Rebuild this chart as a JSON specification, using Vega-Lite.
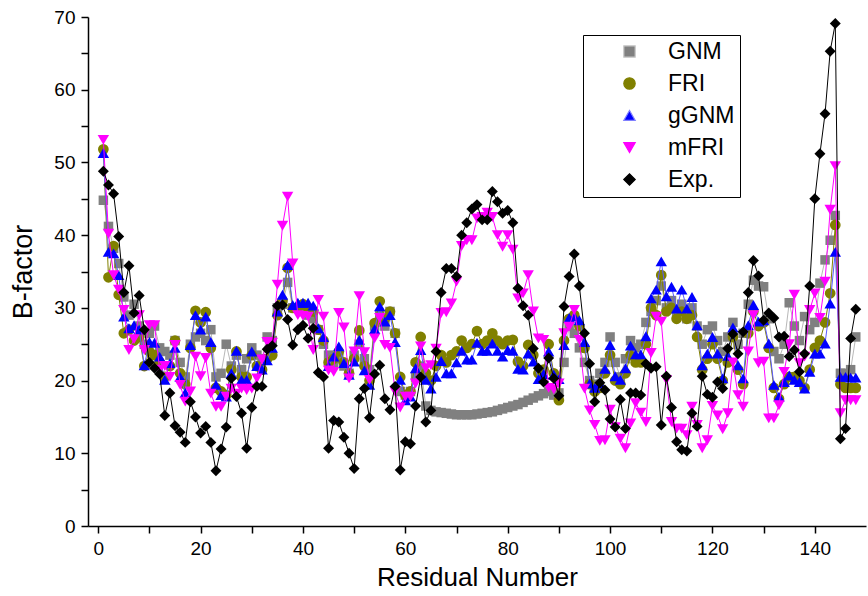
{
"$schema":"https://vega.github.io/schema/vega-lite/v6.json",
"width":778,"height":509,
"autosize":"none",
"padding":{"left":88,"top":17,"right":2,"bottom":70},
"background":"white",
"datasets":{
"GNM":[{"r":1,"v":44.8},{"r":2,"v":41.2},{"r":3,"v":38.2},{"r":4,"v":36.1},{"r":5,"v":31.5},{"r":6,"v":29.0},{"r":7,"v":30.5},{"r":8,"v":27.5},{"r":9,"v":25.0},{"r":10,"v":26.5},{"r":11,"v":27.5},{"r":12,"v":24.5},{"r":13,"v":24.0},{"r":14,"v":23.5},{"r":15,"v":25.5},{"r":16,"v":22.5},{"r":17,"v":20.5},{"r":18,"v":25.0},{"r":19,"v":26.0},{"r":20,"v":26.5},{"r":21,"v":25.5},{"r":22,"v":27.0},{"r":23,"v":20.5},{"r":24,"v":21.0},{"r":25,"v":25.0},{"r":26,"v":22.0},{"r":27,"v":23.5},{"r":28,"v":21.5},{"r":29,"v":23.0},{"r":30,"v":24.5},{"r":31,"v":23.5},{"r":32,"v":23.0},{"r":33,"v":26.0},{"r":34,"v":25.5},{"r":35,"v":30.0},{"r":36,"v":30.5},{"r":37,"v":33.5},{"r":38,"v":30.0},{"r":39,"v":30.0},{"r":40,"v":29.5},{"r":41,"v":29.0},{"r":42,"v":28.5},{"r":43,"v":27.0},{"r":44,"v":25.0},{"r":45,"v":23.5},{"r":46,"v":22.5},{"r":47,"v":23.0},{"r":48,"v":22.0},{"r":49,"v":21.0},{"r":50,"v":23.5},{"r":51,"v":25.0},{"r":52,"v":23.0},{"r":53,"v":21.5},{"r":54,"v":27.5},{"r":55,"v":29.0},{"r":56,"v":27.5},{"r":57,"v":29.5},{"r":58,"v":26.5},{"r":59,"v":18.5},{"r":60,"v":18.0},{"r":61,"v":18.5},{"r":62,"v":20.5},{"r":63,"v":22.0},{"r":64,"v":16.5},{"r":65,"v":15.9},{"r":66,"v":15.7},{"r":67,"v":15.6},{"r":68,"v":15.5},{"r":69,"v":15.4},{"r":70,"v":15.3},{"r":71,"v":15.3},{"r":72,"v":15.3},{"r":73,"v":15.3},{"r":74,"v":15.4},{"r":75,"v":15.5},{"r":76,"v":15.6},{"r":77,"v":15.7},{"r":78,"v":15.9},{"r":79,"v":16.1},{"r":80,"v":16.3},{"r":81,"v":16.5},{"r":82,"v":16.7},{"r":83,"v":17.0},{"r":84,"v":17.3},{"r":85,"v":17.6},{"r":86,"v":17.9},{"r":87,"v":18.2},{"r":88,"v":18.5},{"r":89,"v":18.0},{"r":90,"v":18.3},{"r":91,"v":22.5},{"r":92,"v":27.5},{"r":93,"v":26.5},{"r":94,"v":24.5},{"r":95,"v":22.5},{"r":96,"v":20.0},{"r":97,"v":19.5},{"r":98,"v":21.0},{"r":99,"v":22.5},{"r":100,"v":26.0},{"r":101,"v":22.5},{"r":102,"v":20.5},{"r":103,"v":23.0},{"r":104,"v":25.5},{"r":105,"v":24.5},{"r":106,"v":25.0},{"r":107,"v":28.0},{"r":108,"v":29.5},{"r":109,"v":31.0},{"r":110,"v":33.0},{"r":111,"v":30.0},{"r":112,"v":31.0},{"r":113,"v":29.0},{"r":114,"v":30.5},{"r":115,"v":28.5},{"r":116,"v":30.0},{"r":117,"v":27.5},{"r":118,"v":25.0},{"r":119,"v":27.0},{"r":120,"v":27.5},{"r":121,"v":25.5},{"r":122,"v":24.0},{"r":123,"v":26.0},{"r":124,"v":28.0},{"r":125,"v":25.0},{"r":126,"v":26.5},{"r":127,"v":30.5},{"r":128,"v":33.8},{"r":129,"v":33.0},{"r":130,"v":32.9},{"r":131,"v":28.5},{"r":132,"v":24.0},{"r":133,"v":23.0},{"r":134,"v":25.0},{"r":135,"v":30.7},{"r":136,"v":27.5},{"r":137,"v":25.5},{"r":138,"v":28.8},{"r":139,"v":27.0},{"r":140,"v":28.0},{"r":141,"v":33.4},{"r":142,"v":36.6},{"r":143,"v":39.3},{"r":144,"v":42.7},{"r":145,"v":21.0},{"r":146,"v":21.0},{"r":147,"v":21.5},{"r":148,"v":26.0}],
"FRI":[{"r":1,"v":51.8},{"r":2,"v":34.2},{"r":3,"v":38.5},{"r":4,"v":31.8},{"r":5,"v":26.5},{"r":6,"v":27.0},{"r":7,"v":25.5},{"r":8,"v":26.0},{"r":9,"v":22.0},{"r":10,"v":24.0},{"r":11,"v":23.5},{"r":12,"v":22.5},{"r":13,"v":20.5},{"r":14,"v":22.0},{"r":15,"v":25.5},{"r":16,"v":21.0},{"r":17,"v":19.5},{"r":18,"v":24.5},{"r":19,"v":29.6},{"r":20,"v":28.0},{"r":21,"v":29.4},{"r":22,"v":24.5},{"r":23,"v":19.0},{"r":24,"v":18.5},{"r":25,"v":18.0},{"r":26,"v":21.5},{"r":27,"v":24.0},{"r":28,"v":20.5},{"r":29,"v":20.5},{"r":30,"v":23.5},{"r":31,"v":22.0},{"r":32,"v":21.5},{"r":33,"v":23.0},{"r":34,"v":23.5},{"r":35,"v":29.0},{"r":36,"v":31.0},{"r":37,"v":35.5},{"r":38,"v":30.0},{"r":39,"v":30.0},{"r":40,"v":30.5},{"r":41,"v":30.0},{"r":42,"v":29.5},{"r":43,"v":27.0},{"r":44,"v":25.5},{"r":45,"v":22.5},{"r":46,"v":23.0},{"r":47,"v":24.0},{"r":48,"v":22.5},{"r":49,"v":21.0},{"r":50,"v":23.0},{"r":51,"v":26.9},{"r":52,"v":22.0},{"r":53,"v":20.0},{"r":54,"v":27.9},{"r":55,"v":30.9},{"r":56,"v":28.5},{"r":57,"v":29.5},{"r":58,"v":26.5},{"r":59,"v":20.5},{"r":60,"v":18.0},{"r":61,"v":18.5},{"r":62,"v":22.5},{"r":63,"v":26.0},{"r":64,"v":21.0},{"r":65,"v":20.0},{"r":66,"v":22.0},{"r":67,"v":23.5},{"r":68,"v":22.5},{"r":69,"v":23.5},{"r":70,"v":24.0},{"r":71,"v":25.5},{"r":72,"v":24.5},{"r":73,"v":25.0},{"r":74,"v":26.8},{"r":75,"v":25.0},{"r":76,"v":25.5},{"r":77,"v":26.5},{"r":78,"v":25.5},{"r":79,"v":25.0},{"r":80,"v":25.5},{"r":81,"v":25.6},{"r":82,"v":22.6},{"r":83,"v":22.0},{"r":84,"v":24.9},{"r":85,"v":23.5},{"r":86,"v":21.0},{"r":87,"v":21.5},{"r":88,"v":25.0},{"r":89,"v":21.0},{"r":90,"v":17.3},{"r":91,"v":25.5},{"r":92,"v":28.5},{"r":93,"v":29.0},{"r":94,"v":27.5},{"r":95,"v":24.5},{"r":96,"v":19.5},{"r":97,"v":18.5},{"r":98,"v":19.0},{"r":99,"v":21.0},{"r":100,"v":23.5},{"r":101,"v":20.0},{"r":102,"v":19.5},{"r":103,"v":21.0},{"r":104,"v":23.5},{"r":105,"v":22.5},{"r":106,"v":22.5},{"r":107,"v":25.0},{"r":108,"v":30.0},{"r":109,"v":29.0},{"r":110,"v":34.5},{"r":111,"v":29.5},{"r":112,"v":30.0},{"r":113,"v":28.5},{"r":114,"v":29.5},{"r":115,"v":28.5},{"r":116,"v":29.0},{"r":117,"v":26.0},{"r":118,"v":21.5},{"r":119,"v":23.0},{"r":120,"v":25.0},{"r":121,"v":23.0},{"r":122,"v":20.0},{"r":123,"v":22.5},{"r":124,"v":26.0},{"r":125,"v":21.5},{"r":126,"v":19.5},{"r":127,"v":26.5},{"r":128,"v":29.5},{"r":129,"v":27.5},{"r":130,"v":28.0},{"r":131,"v":24.5},{"r":132,"v":19.0},{"r":133,"v":17.5},{"r":134,"v":19.5},{"r":135,"v":20.5},{"r":136,"v":20.5},{"r":137,"v":20.0},{"r":138,"v":19.0},{"r":139,"v":21.5},{"r":140,"v":24.5},{"r":141,"v":25.5},{"r":142,"v":28.0},{"r":143,"v":32.0},{"r":144,"v":41.4},{"r":145,"v":19.5},{"r":146,"v":19.0},{"r":147,"v":19.0},{"r":148,"v":19.0}],
"gGNM":[{"r":1,"v":51.3},{"r":2,"v":37.7},{"r":3,"v":37.5},{"r":4,"v":34.5},{"r":5,"v":28.8},{"r":6,"v":27.2},{"r":7,"v":27.6},{"r":8,"v":27.0},{"r":9,"v":22.1},{"r":10,"v":25.3},{"r":11,"v":25.2},{"r":12,"v":23.3},{"r":13,"v":20.1},{"r":14,"v":22.4},{"r":15,"v":24.5},{"r":16,"v":20.5},{"r":17,"v":18.3},{"r":18,"v":24.9},{"r":19,"v":29.0},{"r":20,"v":27.0},{"r":21,"v":28.8},{"r":22,"v":25.3},{"r":23,"v":19.4},{"r":24,"v":18.0},{"r":25,"v":17.8},{"r":26,"v":21.0},{"r":27,"v":24.1},{"r":28,"v":20.1},{"r":29,"v":20.1},{"r":30,"v":24.0},{"r":31,"v":22.0},{"r":32,"v":21.5},{"r":33,"v":22.8},{"r":34,"v":24.5},{"r":35,"v":29.5},{"r":36,"v":31.8},{"r":37,"v":35.9},{"r":38,"v":30.4},{"r":39,"v":30.7},{"r":40,"v":30.7},{"r":41,"v":30.7},{"r":42,"v":30.3},{"r":43,"v":27.2},{"r":44,"v":26.0},{"r":45,"v":22.0},{"r":46,"v":23.3},{"r":47,"v":24.7},{"r":48,"v":22.4},{"r":49,"v":20.8},{"r":50,"v":22.6},{"r":51,"v":25.6},{"r":52,"v":21.4},{"r":53,"v":19.4},{"r":54,"v":27.1},{"r":55,"v":30.2},{"r":56,"v":28.1},{"r":57,"v":29.0},{"r":58,"v":25.3},{"r":59,"v":20.1},{"r":60,"v":17.3},{"r":61,"v":17.8},{"r":62,"v":21.7},{"r":63,"v":24.2},{"r":64,"v":20.1},{"r":65,"v":18.9},{"r":66,"v":20.5},{"r":67,"v":22.7},{"r":68,"v":21.0},{"r":69,"v":21.0},{"r":70,"v":22.5},{"r":71,"v":24.1},{"r":72,"v":22.9},{"r":73,"v":22.9},{"r":74,"v":25.2},{"r":75,"v":24.1},{"r":76,"v":24.1},{"r":77,"v":25.1},{"r":78,"v":24.1},{"r":79,"v":23.3},{"r":80,"v":24.2},{"r":81,"v":24.1},{"r":82,"v":21.6},{"r":83,"v":21.5},{"r":84,"v":23.7},{"r":85,"v":22.6},{"r":86,"v":20.2},{"r":87,"v":20.9},{"r":88,"v":24.0},{"r":89,"v":20.8},{"r":90,"v":20.2},{"r":91,"v":24.9},{"r":92,"v":28.6},{"r":93,"v":28.8},{"r":94,"v":28.3},{"r":95,"v":25.3},{"r":96,"v":19.6},{"r":97,"v":19.0},{"r":98,"v":19.6},{"r":99,"v":21.6},{"r":100,"v":24.9},{"r":101,"v":20.6},{"r":102,"v":20.1},{"r":103,"v":21.7},{"r":104,"v":24.8},{"r":105,"v":23.6},{"r":106,"v":23.6},{"r":107,"v":26.1},{"r":108,"v":31.3},{"r":109,"v":32.5},{"r":110,"v":36.4},{"r":111,"v":31.6},{"r":112,"v":32.9},{"r":113,"v":29.9},{"r":114,"v":32.5},{"r":115,"v":29.9},{"r":116,"v":31.5},{"r":117,"v":27.6},{"r":118,"v":22.1},{"r":119,"v":23.7},{"r":120,"v":26.0},{"r":121,"v":23.7},{"r":122,"v":20.3},{"r":123,"v":23.4},{"r":124,"v":27.3},{"r":125,"v":22.1},{"r":126,"v":20.3},{"r":127,"v":27.6},{"r":128,"v":30.4},{"r":129,"v":28.1},{"r":130,"v":28.3},{"r":131,"v":25.1},{"r":132,"v":19.4},{"r":133,"v":17.8},{"r":134,"v":19.8},{"r":135,"v":20.7},{"r":136,"v":20.1},{"r":137,"v":19.8},{"r":138,"v":18.9},{"r":139,"v":21.2},{"r":140,"v":23.7},{"r":141,"v":23.7},{"r":142,"v":25.1},{"r":143,"v":30.6},{"r":144,"v":37.7},{"r":145,"v":20.5},{"r":146,"v":20.5},{"r":147,"v":20.4},{"r":148,"v":20.4}],
"mFRI":[{"r":1,"v":53.1},{"r":2,"v":40.2},{"r":3,"v":34.5},{"r":4,"v":32.5},{"r":5,"v":29.7},{"r":6,"v":24.2},{"r":7,"v":25.7},{"r":8,"v":29.0},{"r":9,"v":24.2},{"r":10,"v":27.6},{"r":11,"v":27.6},{"r":12,"v":21.5},{"r":13,"v":22.0},{"r":14,"v":20.5},{"r":15,"v":24.9},{"r":16,"v":19.4},{"r":17,"v":17.1},{"r":18,"v":18.5},{"r":19,"v":23.3},{"r":20,"v":20.6},{"r":21,"v":23.1},{"r":22,"v":18.2},{"r":23,"v":16.4},{"r":24,"v":16.4},{"r":25,"v":17.8},{"r":26,"v":18.9},{"r":27,"v":18.2},{"r":28,"v":18.9},{"r":29,"v":18.7},{"r":30,"v":18.9},{"r":31,"v":20.3},{"r":32,"v":22.9},{"r":33,"v":25.3},{"r":34,"v":25.2},{"r":35,"v":33.2},{"r":36,"v":41.3},{"r":37,"v":45.3},{"r":38,"v":36.1},{"r":39,"v":29.0},{"r":40,"v":28.9},{"r":41,"v":28.8},{"r":42,"v":24.2},{"r":43,"v":31.1},{"r":44,"v":28.8},{"r":45,"v":21.4},{"r":46,"v":21.2},{"r":47,"v":29.3},{"r":48,"v":27.3},{"r":49,"v":20.3},{"r":50,"v":24.0},{"r":51,"v":31.6},{"r":52,"v":23.9},{"r":53,"v":20.1},{"r":54,"v":25.8},{"r":55,"v":28.6},{"r":56,"v":24.9},{"r":57,"v":24.5},{"r":58,"v":18.5},{"r":59,"v":16.3},{"r":60,"v":17.8},{"r":61,"v":17.8},{"r":62,"v":19.6},{"r":63,"v":24.7},{"r":64,"v":21.7},{"r":65,"v":22.1},{"r":66,"v":24.4},{"r":67,"v":29.3},{"r":68,"v":29.4},{"r":69,"v":30.6},{"r":70,"v":33.6},{"r":71,"v":38.5},{"r":72,"v":39.3},{"r":73,"v":39.3},{"r":74,"v":42.3},{"r":75,"v":42.5},{"r":76,"v":43.1},{"r":77,"v":42.5},{"r":78,"v":40.0},{"r":79,"v":38.4},{"r":80,"v":40.0},{"r":81,"v":38.0},{"r":82,"v":31.3},{"r":83,"v":32.0},{"r":84,"v":34.5},{"r":85,"v":29.5},{"r":86,"v":25.8},{"r":87,"v":25.6},{"r":88,"v":19.0},{"r":89,"v":18.8},{"r":90,"v":19.6},{"r":91,"v":26.5},{"r":92,"v":27.4},{"r":93,"v":29.7},{"r":94,"v":25.6},{"r":95,"v":18.9},{"r":96,"v":15.9},{"r":97,"v":13.9},{"r":98,"v":11.7},{"r":99,"v":11.8},{"r":100,"v":16.0},{"r":101,"v":13.6},{"r":102,"v":12.0},{"r":103,"v":10.7},{"r":104,"v":14.1},{"r":105,"v":16.9},{"r":106,"v":15.6},{"r":107,"v":14.3},{"r":108,"v":23.8},{"r":109,"v":28.8},{"r":110,"v":28.1},{"r":111,"v":20.1},{"r":112,"v":14.3},{"r":113,"v":13.4},{"r":114,"v":13.4},{"r":115,"v":12.5},{"r":116,"v":16.4},{"r":117,"v":13.9},{"r":118,"v":10.7},{"r":119,"v":11.8},{"r":120,"v":16.5},{"r":121,"v":15.2},{"r":122,"v":13.3},{"r":123,"v":15.5},{"r":124,"v":22.5},{"r":125,"v":18.0},{"r":126,"v":16.4},{"r":127,"v":24.0},{"r":128,"v":29.0},{"r":129,"v":22.4},{"r":130,"v":22.6},{"r":131,"v":14.8},{"r":132,"v":14.8},{"r":133,"v":16.6},{"r":134,"v":21.2},{"r":135,"v":25.0},{"r":136,"v":31.8},{"r":137,"v":22.4},{"r":138,"v":23.3},{"r":139,"v":29.7},{"r":140,"v":32.0},{"r":141,"v":28.6},{"r":142,"v":33.6},{"r":143,"v":43.5},{"r":144,"v":49.5},{"r":145,"v":15.5},{"r":146,"v":17.3},{"r":147,"v":17.3},{"r":148,"v":17.3}],
"Exp":[{"r":1,"v":48.8},{"r":2,"v":46.9},{"r":3,"v":45.7},{"r":4,"v":39.8},{"r":5,"v":32.1},{"r":6,"v":35.8},{"r":7,"v":29.3},{"r":8,"v":31.7},{"r":9,"v":27.0},{"r":10,"v":22.5},{"r":11,"v":21.7},{"r":12,"v":20.9},{"r":13,"v":15.2},{"r":14,"v":18.3},{"r":15,"v":13.8},{"r":16,"v":12.9},{"r":17,"v":11.5},{"r":18,"v":17.1},{"r":19,"v":15.0},{"r":20,"v":12.8},{"r":21,"v":13.7},{"r":22,"v":11.5},{"r":23,"v":7.6},{"r":24,"v":10.6},{"r":25,"v":13.6},{"r":26,"v":20.3},{"r":27,"v":17.8},{"r":28,"v":15.5},{"r":29,"v":10.7},{"r":30,"v":16.3},{"r":31,"v":19.2},{"r":32,"v":19.2},{"r":33,"v":24.3},{"r":34,"v":24.8},{"r":35,"v":30.3},{"r":36,"v":30.4},{"r":37,"v":28.4},{"r":38,"v":24.9},{"r":39,"v":27.0},{"r":40,"v":27.6},{"r":41,"v":25.8},{"r":42,"v":27.2},{"r":43,"v":21.1},{"r":44,"v":20.5},{"r":45,"v":10.7},{"r":46,"v":14.5},{"r":47,"v":14.3},{"r":48,"v":12.2},{"r":49,"v":10.0},{"r":50,"v":7.9},{"r":51,"v":17.5},{"r":52,"v":18.9},{"r":53,"v":14.9},{"r":54,"v":20.9},{"r":55,"v":22.1},{"r":56,"v":17.5},{"r":57,"v":16.0},{"r":58,"v":19.2},{"r":59,"v":7.7},{"r":60,"v":11.6},{"r":61,"v":11.3},{"r":62,"v":16.5},{"r":63,"v":20.5},{"r":64,"v":14.3},{"r":65,"v":15.9},{"r":66,"v":24.0},{"r":67,"v":32.1},{"r":68,"v":35.4},{"r":69,"v":35.4},{"r":70,"v":34.3},{"r":71,"v":40.0},{"r":72,"v":41.7},{"r":73,"v":43.6},{"r":74,"v":44.2},{"r":75,"v":42.1},{"r":76,"v":42.1},{"r":77,"v":46.0},{"r":78,"v":44.6},{"r":79,"v":43.0},{"r":80,"v":43.4},{"r":81,"v":41.7},{"r":82,"v":32.7},{"r":83,"v":30.3},{"r":84,"v":29.0},{"r":85,"v":24.4},{"r":86,"v":21.7},{"r":87,"v":19.8},{"r":88,"v":23.1},{"r":89,"v":20.3},{"r":90,"v":17.9},{"r":91,"v":30.2},{"r":92,"v":34.3},{"r":93,"v":37.4},{"r":94,"v":33.0},{"r":95,"v":26.5},{"r":96,"v":22.3},{"r":97,"v":17.1},{"r":98,"v":19.7},{"r":99,"v":18.7},{"r":100,"v":14.7},{"r":101,"v":13.6},{"r":102,"v":17.4},{"r":103,"v":13.4},{"r":104,"v":18.3},{"r":105,"v":18.3},{"r":106,"v":18.0},{"r":107,"v":22.3},{"r":108,"v":21.7},{"r":109,"v":21.9},{"r":110,"v":13.9},{"r":111,"v":20.6},{"r":112,"v":16.3},{"r":113,"v":11.6},{"r":114,"v":10.5},{"r":115,"v":10.3},{"r":116,"v":15.5},{"r":117,"v":13.7},{"r":118,"v":20.6},{"r":119,"v":18.1},{"r":120,"v":17.7},{"r":121,"v":19.8},{"r":122,"v":18.9},{"r":123,"v":24.4},{"r":124,"v":26.4},{"r":125,"v":23.7},{"r":126,"v":26.7},{"r":127,"v":32.1},{"r":128,"v":36.5},{"r":129,"v":34.4},{"r":130,"v":28.3},{"r":131,"v":29.3},{"r":132,"v":28.6},{"r":133,"v":26.0},{"r":134,"v":26.1},{"r":135,"v":23.3},{"r":136,"v":24.2},{"r":137,"v":21.2},{"r":138,"v":23.7},{"r":139,"v":33.0},{"r":140,"v":45.0},{"r":141,"v":51.2},{"r":142,"v":56.7},{"r":143,"v":65.3},{"r":144,"v":69.1},{"r":145,"v":12.0},{"r":146,"v":13.4},{"r":147,"v":25.8},{"r":148,"v":29.8}]
},
"encoding":{
"x":{"field":"r","type":"quantitative","scale":{"domain":[-2,150],"nice":false,"zero":false},
"axis":{"title":"Residual Number","values":[0,10,20,30,40,50,60,70,80,90,100,110,120,130,140],"labelExpr":"datum.value % 20 === 0 ? datum.label : ''","grid":false,"domainColor":"black","domainWidth":1.5,"tickColor":"black","tickWidth":1.5,"tickSize":7,"labelFontSize":19,"labelColor":"black","labelPadding":6,"titleFontSize":26,"titleFontWeight":"normal","titleColor":"black","titlePadding":6,"labelFont":"Liberation Sans","titleFont":"Liberation Sans"}},
"y":{"field":"v","type":"quantitative","scale":{"domain":[0,70],"nice":false},
"axis":{"title":"B-factor","values":[0,5,10,15,20,25,30,35,40,45,50,55,60,65,70],"labelExpr":"datum.value % 10 === 0 ? datum.label : ''","grid":false,"domainColor":"black","domainWidth":1.5,"tickColor":"black","tickWidth":1.5,"tickSize":7,"labelFontSize":19,"labelColor":"black","labelPadding":6,"titleFontSize":27,"titleFontWeight":"normal","titleColor":"black","titlePadding":16,"labelFont":"Liberation Sans","titleFont":"Liberation Sans"}}
},
"layer":[
{"data":{"name":"GNM"},"mark":{"type":"line","stroke":"#b8b8b8","strokeWidth":1},"encoding":{}},
{"data":{"name":"GNM"},"mark":{"type":"point","filled":true,"size":90,"opacity":1},"encoding":{
"color":{"datum":"GNM","scale":{"domain":["GNM","FRI","gGNM","mFRI","Exp."],"range":["#808080","#808000","#0000ff","#ff00ff","#000000"]},
"legend":{"encode":{"symbols":{"update":{
"shape":{"signal":"datum.value === 'GNM' ? 'M-4.7,0H4.7M-0.9,-0.9H0.9V0.9H-0.9Z' : datum.value === 'FRI' ? 'M-4.7,0H4.7M1,0A1,1,0,1,1,-1,0A1,1,0,1,1,1,0Z' : datum.value === 'gGNM' ? 'M-4.7,0H4.7M0,-1.05L1.15,0.95H-1.15Z' : datum.value === 'mFRI' ? 'M-4.7,0H4.7M0,1.05L1.15,-0.95H-1.15Z' : 'M-4.7,0H4.7M0,-1.05L1.05,0L0,1.05L-1.05,0Z'"},
"stroke":{"signal":"datum.value === 'GNM' ? '#c8c8c8' : datum.value === 'FRI' ? '#808000' : datum.value === 'gGNM' ? '#8080ff' : datum.value === 'mFRI' ? '#ff00ff' : '#000000'"},
"strokeWidth":{"value":1.2}}}}}},
"shape":{"datum":"GNM","legend":null,"scale":{"domain":["GNM","FRI","gGNM","mFRI","Exp."],"range":["square","circle","triangle-up","triangle-down","diamond"]}}}},
{"data":{"name":"FRI"},"mark":{"type":"line","stroke":"#808000","strokeWidth":1},"encoding":{}},
{"data":{"name":"FRI"},"mark":{"type":"point","filled":true,"size":115,"opacity":1},"encoding":{"color":{"datum":"FRI"},"shape":{"datum":"FRI","legend":null}}},
{"data":{"name":"gGNM"},"mark":{"type":"line","stroke":"#5a5aff","strokeWidth":1},"encoding":{}},
{"data":{"name":"gGNM"},"mark":{"type":"point","filled":true,"size":130,"opacity":1},"encoding":{"color":{"datum":"gGNM"},"shape":{"datum":"gGNM","legend":null}}},
{"data":{"name":"mFRI"},"mark":{"type":"line","stroke":"#ff00ff","strokeWidth":1},"encoding":{}},
{"data":{"name":"mFRI"},"mark":{"type":"point","filled":true,"size":130,"opacity":1},"encoding":{"color":{"datum":"mFRI"},"shape":{"datum":"mFRI","legend":null}}},
{"data":{"name":"Exp"},"mark":{"type":"line","stroke":"#000000","strokeWidth":1},"encoding":{}},
{"data":{"name":"Exp"},"mark":{"type":"point","filled":true,"size":120,"opacity":1},"encoding":{"color":{"datum":"Exp."},"shape":{"datum":"Exp.","legend":null}}}
],
"resolve":{"scale":{"color":"shared","shape":"shared"}},
"config":{"view":{"stroke":null},"font":"Liberation Sans",
"legend":{"orient":"none","legendX":495,"legendY":18,"strokeColor":"black","fillColor":"white","padding":5,"title":null,"labelFontSize":23,"labelColor":"black","labelFont":"Liberation Sans","symbolSize":130,"symbolOffset":30,"labelOffset":27,"rowPadding":8,"symbolOpacity":1}}
}
